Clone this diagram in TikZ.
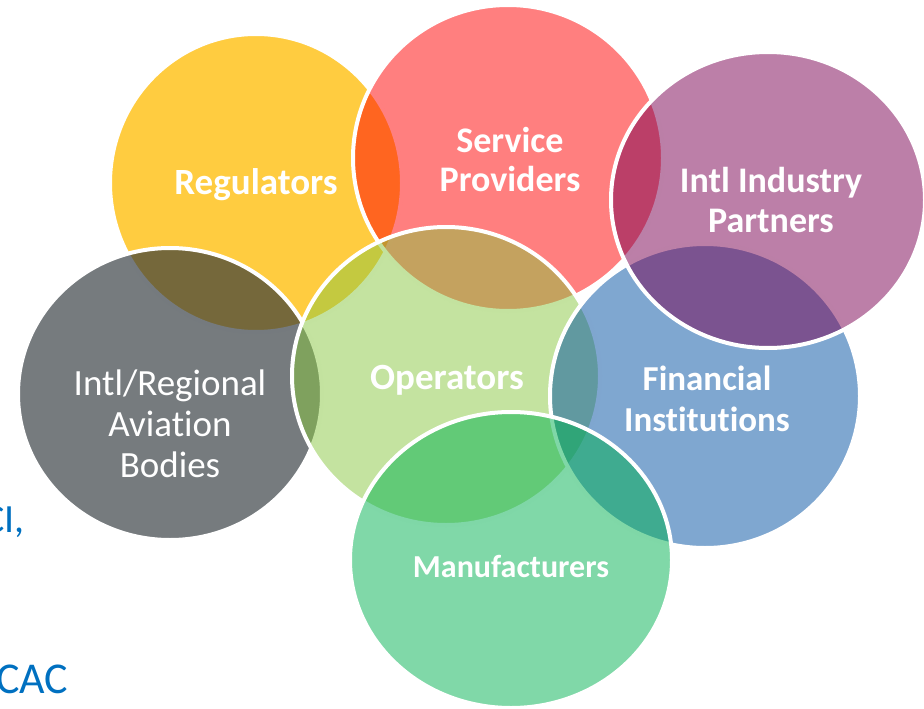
\documentclass[tikz,border=0pt]{standalone}
\usepackage{fontspec}
\setmainfont{Carlito}[Ligatures=NoCommon]
\usepackage{tikz}
\usetikzlibrary{positioning}

\definecolor{regyellow}{RGB}{255,187,0}
\definecolor{servred}{RGB}{255,0,0}
\definecolor{bodygray}{RGB}{44,52,57}
\definecolor{opgreen}{RGB}{137,199,65}
\definecolor{finblue}{RGB}{0,79,161}
\definecolor{partpurple}{RGB}{121,0,81}
\definecolor{manugreen}{RGB}{1,177,81}
\definecolor{slideblue}{RGB}{0,112,192}

% the seven bubbles
\def\regbubble{(256,183) ellipse [x radius=146pt, y radius=149pt]}
\def\servbubble{(508,158) ellipse [x radius=155pt, y radius=153pt]}
\def\bodybubble{(170,394) ellipse [x radius=152pt, y radius=146pt]}
\def\opbubble{(446,376) ellipse [x radius=154pt, y radius=149pt]}
\def\finbubble{(705,396) ellipse [x radius=155pt, y radius=152pt]}
\def\partbubble{(768,200) ellipse [x radius=157pt, y radius=148pt]}
\def\manububble{(511,560) ellipse [x radius=161pt, y radius=148pt]}

\begin{document}
\begin{tikzpicture}[x=1pt, y=-1pt,
    bubble/.style 2 args={draw=white, line width=4pt, fill=#1, fill opacity=#2},
    title/.style 2 args={text=white, align=center,
        font=\bfseries\fontsize{#1}{#2}\selectfont},
    plain/.style 2 args={text=white, align=center,
        font=\fontsize{#1}{#2}\selectfont},
    slidetext/.style={text=slideblue, inner sep=0pt}]

    \useasboundingbox (0,0) rectangle (924,709);

    % text of the slide behind the bubbles
    \node[slidetext, font=\fontsize{40}{44}\selectfont, anchor=base west]
        (aci) at (-17,532) {CI,};
    \node[slidetext, font=\fontsize{44}{48}\selectfont, anchor=base west]
        (cac) at (-4,693) {CAC};

    \filldraw[bubble={regyellow}{.75}] \regbubble;
    \filldraw[bubble={servred}{.5}] \servbubble;
    \filldraw[bubble={bodygray}{.65}] \bodybubble;
    \filldraw[bubble={opgreen}{.5}] \opbubble;
    \filldraw[bubble={finblue}{.5}] \finbubble;
    \filldraw[bubble={partpurple}{.5}] \partbubble;
    \filldraw[bubble={manugreen}{.5}] \manububble;

    \node[title={37}{40}] (reg) at (256,185) {Regulators};
    \node[title={36}{39}] (serv) at (510,160) {Service\\Providers};
    \node[title={36}{40}] (part) at (771,200) {Intl Industry\\Partners};
    \node[plain={37}{41}] (body) at (170,424) {Intl/Regional\\Aviation\\Bodies};
    \node[title={37}{40}] (op) at (447,380) {Operators};
    \node[title={35}{41}] (fin) at (707,399) {Financial\\Institutions};
    \node[title={32}{36}] (manu) at (511,566) {Manufacturers};

\end{tikzpicture}
\end{document}
